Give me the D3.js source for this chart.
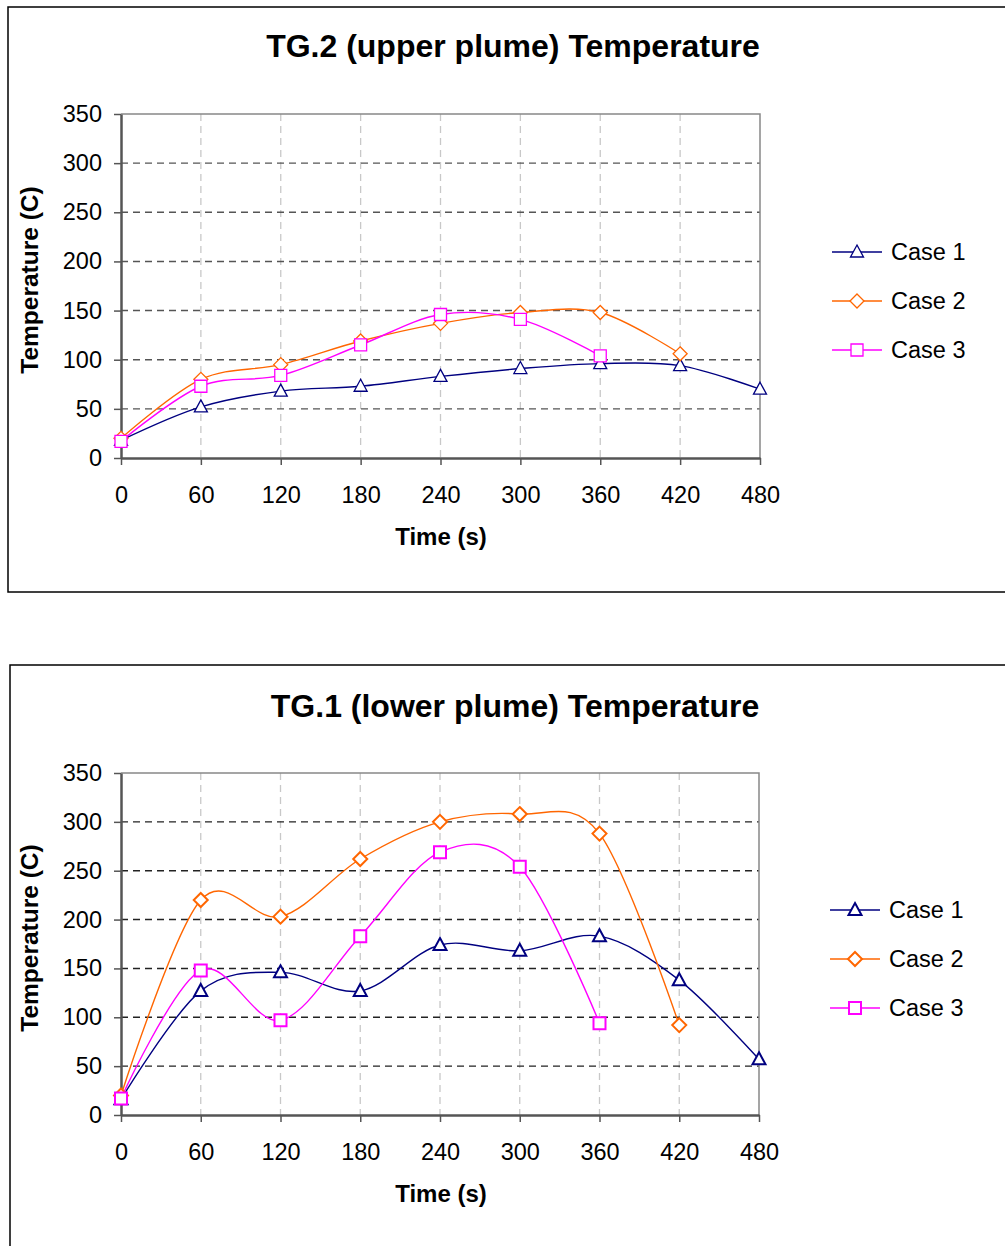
<!DOCTYPE html>
<html>
<head>
<meta charset="utf-8">
<script src="https://cdn.jsdelivr.net/npm/d3@7"></script>
<style>
  body { margin: 0; background: #fff; }
  text { font-family: "Liberation Sans", Arial, sans-serif; fill: #000; }
</style>
</head>
<body>
<script>
// Time axis (s)
var times = [0, 60, 120, 180, 240, 300, 360, 420, 480];
var xTicks = [0, 60, 120, 180, 240, 300, 360, 420, 480];
var yTicks = [0, 50, 100, 150, 200, 250, 300, 350];
var caseNames = ["Case 1", "Case 2", "Case 3"];

// TG.2 (upper plume)
var tg2Case1 = [18, 52, 68, 73, 83, 91, 96, 94, 70];
var tg2Case2 = [20, 80, 95, 119, 137, 148, 148, 106];
var tg2Case3 = [17, 73, 84, 115, 146, 141, 104];

// TG.1 (lower plume)
var tg1Case1 = [16, 127, 146, 127, 174, 168, 183, 138, 57];
var tg1Case2 = [20, 220, 203, 262, 300, 308, 288, 92];
var tg1Case3 = [17, 148, 97, 183, 269, 254, 94];

var colors = ["#000080", "#ff6600", "#ff00ff"];
var symbols = ["triangle", "diamond", "square"];

var svg = d3.select("body").append("svg")
  .attr("width", 1005)
  .attr("height", 1246);

// draw one open marker at (cx, cy)
function marker(g, kind, cx, cy, color, sw) {
  var p;
  if (kind == "triangle") p = [[cx, cy - 7], [cx + 6.5, cy + 5], [cx - 6.5, cy + 5]];
  else if (kind == "diamond") p = [[cx, cy - 7], [cx + 7, cy], [cx, cy + 7], [cx - 7, cy]];
  else p = [[cx - 6, cy - 6], [cx + 6, cy - 6], [cx + 6, cy + 6], [cx - 6, cy + 6]];
  g.append("path")
    .attr("d", "M" + p.join("L") + "Z")
    .attr("fill", "#fff")
    .attr("stroke", color)
    .attr("stroke-width", sw);
}

function drawChart(o) {
  var g = svg.append("g");

  // outer frame
  g.append("rect")
    .attr("x", o.frame[0]).attr("y", o.frame[1])
    .attr("width", 1100).attr("height", o.frame[2])
    .attr("fill", "none").attr("stroke", "#000").attr("stroke-width", 1.5);

  var x = d3.scaleLinear().domain([0, 480]).range([o.left, o.right]);
  var y = d3.scaleLinear().domain([0, 350]).range([o.bottom, o.top]);

  // vertical grid
  g.selectAll(".vg").data(xTicks.slice(1, -1)).enter().append("line")
    .attr("x1", d => x(d)).attr("x2", d => x(d))
    .attr("y1", o.top).attr("y2", o.bottom)
    .attr("stroke", "#c8c8c8").attr("stroke-width", 1.3)
    .attr("stroke-dasharray", "7,5");

  // horizontal grid
  g.selectAll(".hg").data(yTicks.slice(1, -1)).enter().append("line")
    .attr("x1", o.left).attr("x2", o.right)
    .attr("y1", d => y(d)).attr("y2", d => y(d))
    .attr("stroke", o.gridColor).attr("stroke-width", 1.4)
    .attr("stroke-dasharray", "7,5");

  // top and right border
  g.append("path")
    .attr("d", "M" + o.left + "," + o.top + "H" + o.right + "V" + o.bottom)
    .attr("fill", "none").attr("stroke", "#888").attr("stroke-width", 1.5);

  // axes
  var ax = g.append("g").attr("transform", "translate(0," + o.bottom + ")")
    .call(d3.axisBottom(x).tickValues(xTicks).tickSize(7).tickPadding(21).tickSizeOuter(0));
  var ay = g.append("g").attr("transform", "translate(" + o.left + ",0)")
    .call(d3.axisLeft(y).tickValues(yTicks).tickSize(7).tickPadding(12).tickSizeOuter(0));
  [ax, ay].forEach(function(a) {
    a.select(".domain").attr("stroke", "#555").attr("stroke-width", 2.5);
    a.selectAll(".tick line").attr("stroke", "#555").attr("stroke-width", 1.5);
    a.selectAll("text").attr("font-size", 23.5)
      .attr("font-family", "Liberation Sans, Arial, sans-serif").attr("fill", "#000");
  });

  // titles
  g.append("text")
    .attr("x", o.titleX).attr("y", o.titleY)
    .attr("text-anchor", "middle")
    .attr("font-size", 32).attr("font-weight", "bold")
    .text(o.title);
  g.append("text")
    .attr("x", 441).attr("y", o.bottom + 87)
    .attr("text-anchor", "middle")
    .attr("font-size", 24).attr("font-weight", "bold")
    .text("Time (s)");
  g.append("text")
    .attr("transform", "translate(38," + ((o.top + o.bottom) / 2 - 6) + ") rotate(-90)")
    .attr("text-anchor", "middle")
    .attr("font-size", 24.5).attr("font-weight", "bold")
    .text("Temperature (C)");

  // series
  var line = d3.line()
    .x((d, i) => x(times[i]))
    .y(d => y(d))
    .curve(d3.curveCatmullRom.alpha(0));

  o.series.forEach(function(s, k) {
    g.append("path")
      .attr("d", line(s))
      .attr("fill", "none")
      .attr("stroke", colors[k])
      .attr("stroke-width", 1.4);
  });
  o.series.forEach(function(s, k) {
    s.forEach(function(v, i) {
      marker(g, symbols[k], x(times[i]), y(v), colors[k], o.markerWidth);
    });
  });

  // legend
  caseNames.forEach(function(name, k) {
    var ly = o.legendY + k * 49;
    g.append("line")
      .attr("x1", o.legendX).attr("x2", o.legendX + 50)
      .attr("y1", ly).attr("y2", ly)
      .attr("stroke", colors[k]).attr("stroke-width", 1.4);
    marker(g, symbols[k], o.legendX + 25, ly, colors[k], o.markerWidth);
    g.append("text")
      .attr("x", o.legendX + 59).attr("y", ly + 8)
      .attr("font-size", 23.5)
      .text(name);
  });
}

drawChart({
  title: "TG.2 (upper plume) Temperature",
  frame: [8, 7, 585],
  left: 121, right: 760, top: 114, bottom: 458,
  titleX: 513, titleY: 57,
  gridColor: "#555",
  markerWidth: 1.3,
  legendX: 832, legendY: 252,
  series: [tg2Case1, tg2Case2, tg2Case3]
});

drawChart({
  title: "TG.1 (lower plume) Temperature",
  frame: [10, 665, 700],
  left: 121, right: 759, top: 773, bottom: 1115,
  titleX: 515, titleY: 717,
  gridColor: "#222",
  markerWidth: 2,
  legendX: 830, legendY: 910,
  series: [tg1Case1, tg1Case2, tg1Case3]
});
</script>
</body>
</html>
